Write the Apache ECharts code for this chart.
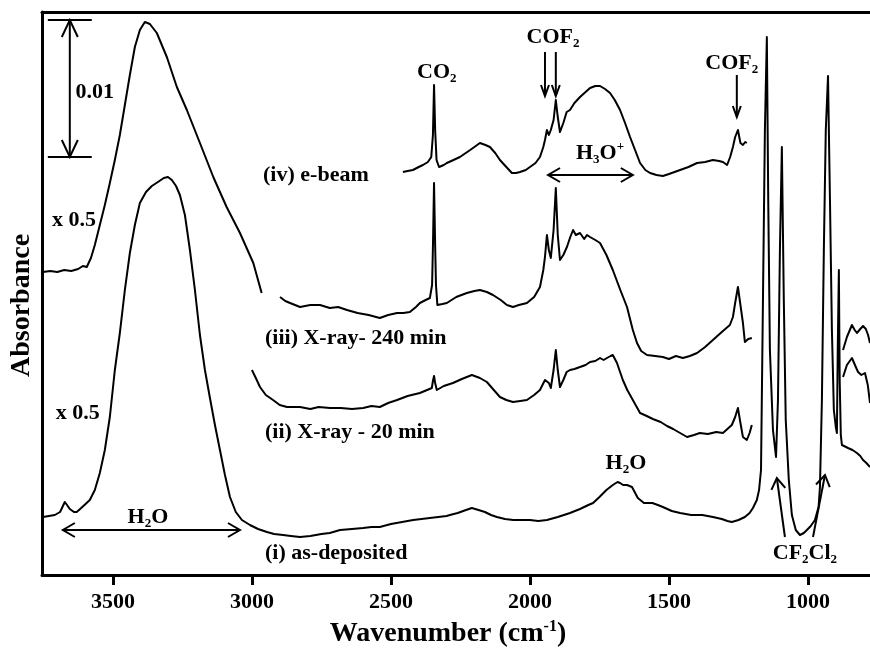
<!DOCTYPE html>
<html><head><meta charset="utf-8">
<script src="https://cdn.jsdelivr.net/npm/echarts@6/dist/echarts.min.js"></script>
<style>html,body{margin:0;padding:0;background:#fff}#c{width:870px;height:654px}</style>
</head><body><div id="c"></div>
<script>
// x: wavenumber (cm-1); y: offset absorbance in arbitrary plot units
const xTicks = [1000, 1500, 2000, 2500, 3000, 3500];

// (iii) X-ray 240 min, x0.5 OH-stretch part
const spectrumIII_scaled = [[3752,303],[3725,304],[3700,303],[3675,305],[3650,304],[3625,306],[3608,309],[3594,308],[3579,317],[3565,330],[3547,350],[3529,370],[3511,392],[3493,415],[3475,440],[3457,470],[3439,500],[3421,528],[3403,545],[3385,553],[3367,551],[3342,542],[3306,518],[3270,488],[3234,465],[3187,432],[3139,398],[3091,368],[3043,342],[2995,312],[2965,282]];
const spectrumIII = [[2899,278],[2880,274],[2863,272],[2845,270],[2827,268],[2790,270],[2755,270],[2720,267],[2690,268],[2658,265],[2620,262],[2580,260],[2540,257],[2510,260],[2478,262],[2455,262],[2432,263],[2410,268],[2396,272],[2375,275],[2360,277],[2352,290],[2349,328],[2345,392],[2341,330],[2338,290],[2333,270],[2315,271],[2299,272],[2265,278],[2227,282],[2200,284],[2180,285],[2155,283],[2133,280],[2105,275],[2083,270],[2061,268],[2040,270],[2011,272],[1985,278],[1964,288],[1952,305],[1946,318],[1939,340],[1932,325],[1925,317],[1915,345],[1907,387],[1900,340],[1892,315],[1880,320],[1867,328],[1855,338],[1845,345],[1835,340],[1820,342],[1805,336],[1795,340],[1784,338],[1765,335],[1748,332],[1725,320],[1702,305],[1675,285],[1651,268],[1630,245],[1615,232],[1600,224],[1579,220],[1550,219],[1522,218],[1500,216],[1475,219],[1450,217],[1425,219],[1399,222],[1370,228],[1342,235],[1310,243],[1281,250],[1270,258],[1262,272],[1252,288],[1243,270],[1234,252],[1227,233],[1215,236],[1202,237]];
const spectrumIII_low = [[874,225],[860,238],[842,250],[832,245],[824,242],[812,246],[802,249],[792,246],[784,240],[777,232]];

// (ii) X-ray 20 min
const spectrumII = [[3000,205],[2986,197],[2971,188],[2950,180],[2924,175],[2900,170],[2874,168],[2850,168],[2827,168],[2790,166],[2760,168],[2719,167],[2680,167],[2640,166],[2600,167],[2570,169],[2540,168],[2510,172],[2478,175],[2440,179],[2396,182],[2370,185],[2353,187],[2349,194],[2345,199],[2341,192],[2335,185],[2310,189],[2277,192],[2245,196],[2209,200],[2180,197],[2155,193],[2130,185],[2108,178],[2085,175],[2061,173],[2035,174],[2011,175],[1985,180],[1964,185],[1946,195],[1939,197],[1932,192],[1925,187],[1915,205],[1907,225],[1900,205],[1892,188],[1880,195],[1868,203],[1856,205],[1840,206],[1820,208],[1800,210],[1784,213],[1765,214],[1748,217],[1735,215],[1723,217],[1710,219],[1702,220],[1687,212],[1666,195],[1650,185],[1630,175],[1604,162],[1580,159],[1558,156],[1530,153],[1507,149],[1485,146],[1460,142],[1435,138],[1410,140],[1389,142],[1360,141],[1330,143],[1306,142],[1290,146],[1274,150],[1262,158],[1252,167],[1243,152],[1234,138],[1220,135],[1210,142],[1202,150]];
const spectrumII_low = [[874,198],[860,210],[842,217],[828,208],[820,203],[808,200],[795,202],[785,190],[777,172]];

// (i) as-deposited (OH band shown x0.5)
const spectrumI = [[3752,58],[3730,59],[3709,60],[3690,63],[3673,73],[3665,70],[3655,66],[3640,63],[3630,63],[3610,68],[3583,75],[3565,85],[3547,102],[3529,125],[3511,158],[3493,205],[3475,242],[3457,285],[3439,322],[3421,350],[3403,372],[3381,383],[3360,389],[3338,393],[3317,397],[3302,398],[3288,395],[3273,389],[3259,380],[3241,360],[3223,325],[3205,285],[3187,240],[3169,205],[3151,177],[3133,150],[3115,125],[3097,100],[3079,78],[3058,63],[3036,55],[3007,50],[2978,46],[2946,43],[2920,41],[2888,40],[2860,39],[2827,38],[2790,39],[2750,41],[2720,42],[2683,45],[2640,46],[2600,47],[2570,48],[2540,48],[2500,51],[2460,53],[2420,55],[2390,56],[2360,57],[2330,58],[2300,59],[2288,60],[2260,62],[2230,65],[2209,67],[2185,65],[2162,63],[2140,60],[2119,58],[2090,56],[2060,55],[2036,55],[2000,55],[1970,54],[1939,55],[1900,58],[1856,62],[1820,66],[1790,70],[1773,72],[1750,78],[1725,85],[1702,90],[1685,93],[1676,92],[1665,90],[1651,90],[1633,88],[1612,77],[1590,72],[1560,72],[1540,70],[1522,68],[1490,64],[1460,62],[1420,60],[1380,60],[1342,58],[1310,56],[1290,54],[1274,53],[1250,55],[1227,58],[1210,62],[1198,67],[1184,75],[1176,85],[1169,105],[1162,275],[1155,445],[1148,538],[1143,375],[1137,225],[1126,145],[1115,118],[1108,175],[1101,325],[1094,428],[1087,275],[1080,155],[1069,95],[1058,60],[1044,45],[1029,40],[1015,42],[1004,45],[990,49],[975,55],[962,68],[957,88],[950,175],[943,325],[936,445],[928,499],[921,375],[914,245],[907,165],[900,148],[896,142],[893,225],[889,305],[886,195],[882,140],[878,130],[874,128],[856,127],[840,125],[824,122],[812,119],[802,115],[790,112],[777,108]];

// (iv) e-beam
const spectrumIV = [[2457,403],[2440,404],[2421,405],[2400,408],[2385,410],[2367,413],[2355,418],[2349,440],[2345,490],[2341,445],[2336,415],[2327,408],[2310,410],[2299,412],[2275,415],[2252,418],[2215,425],[2180,432],[2160,430],[2144,428],[2125,422],[2108,415],[2085,408],[2065,402],[2050,402],[2036,403],[2015,405],[2000,408],[1980,412],[1964,418],[1952,428],[1946,435],[1939,445],[1932,440],[1925,445],[1915,455],[1907,475],[1900,458],[1892,443],[1880,452],[1868,463],[1856,465],[1840,472],[1820,478],[1800,483],[1784,487],[1765,489],[1748,489],[1730,486],[1712,482],[1695,475],[1676,465],[1658,452],[1640,438],[1622,425],[1604,412],[1585,405],[1568,402],[1545,400],[1522,399],[1500,401],[1480,403],[1460,405],[1430,408],[1399,412],[1370,413],[1342,415],[1320,414],[1306,413],[1291,410],[1280,418],[1270,428],[1262,438],[1252,445],[1243,432],[1234,430],[1226,433],[1220,432]];

// annotation texts and anchors (data coordinates)
const labelTexts = [
  {t:'{a|0.01}', at:[3565,483], align:'center'},
  {t:'{a|x 0.5}', at:[3640,355], align:'center'},
  {t:'{a|x 0.5}', at:[3626,162], align:'center'},
  {t:'{a|(iv) e-beam}', at:[2960,400], align:'left'},
  {t:'{a|(iii) X-ray- 240 min}', at:[2953,237], align:'left'},
  {t:'{a|(ii) X-ray - 20 min}', at:[2953,143], align:'left'},
  {t:'{a|(i) as-deposited}', at:[2953,22], align:'left'},
  {t:'{a|CO}{s|2}', at:[2335,503], align:'center'},
  {t:'{a|COF}{s|2}', at:[1917,538], align:'center'},
  {t:'{a|H}{s|3}{a|O}{p|+}', at:[1748,422], align:'center'},
  {t:'{a|COF}{s|2}', at:[1274,512], align:'center'},
  {t:'{a|H}{s|2}{a|O}', at:[1655,112], align:'center'},
  {t:'{a|H}{s|2}{a|O}', at:[3374,58], align:'center'},
  {t:'{a|CF}{s|2}{a|Cl}{s|2}', at:[1011,22], align:'center'}
];
const arrowList = [
  {from:[1946,523], to:[1946,479], both:false, len:11, half:4},
  {from:[1907,523], to:[1907,479], both:false, len:11, half:4},
  {from:[1256,500], to:[1256,458], both:false, len:11, half:4},
  {from:[1935,400], to:[1630,400], both:true, len:12, half:7},
  {from:[3680,45], to:[3043,45], both:true, len:12, half:7},
  {from:[3655,555], to:[3655,418], both:true, len:17, half:8},
  {from:[1083,38], to:[1112,97], both:false, len:11, half:7},
  {from:[982,38], to:[939,100], both:false, len:11, half:7}
];
const capLines = [
  {from:[3734,555], to:[3576,555]},
  {from:[3734,418], to:[3576,418]}
];

const FONT = '"Liberation Serif","Times New Roman",serif';
const RICH = {
  a:{fontFamily:FONT, fontWeight:'bold', fontSize:22, color:'#000', lineHeight:26},
  s:{fontFamily:FONT, fontWeight:'bold', fontSize:13, color:'#000', lineHeight:10, verticalAlign:'bottom'},
  p:{fontFamily:FONT, fontWeight:'bold', fontSize:13, color:'#000', lineHeight:10, verticalAlign:'top'}
};

const chart = echarts.init(document.getElementById('c'), null, {renderer:'canvas'});
function lineSeries(name, data){
  return {type:'line', name:name, data:data, showSymbol:false, symbol:'none', silent:true,
    lineStyle:{color:'#000', width:2, join:'round'}, z:3};
}
const axisLineStyle = {color:'#000', width:3};
chart.setOption({
  animation:false,
  backgroundColor:'#fff',
  grid:{left:42, right:0, top:12, bottom:79},
  xAxis:[{
    type:'value', min:777, max:3755, inverse:true,
    axisLine:{show:true, onZero:false, lineStyle:axisLineStyle},
    axisTick:{show:true, customValues:xTicks, length:10, inside:false, lineStyle:{color:'#000', width:3}},
    axisLabel:{customValues:xTicks, formatter:function(v){return String(v);}, color:'#000', fontFamily:FONT, fontWeight:'bold', fontSize:22, margin:16},
    splitLine:{show:false},
    name:'{a|Wavenumber (cm}{p|-1}{a|)}', nameLocation:'middle', nameGap:44,
    nameTextStyle:{padding:[0,16,0,0], rich:{
      a:{fontFamily:FONT, fontWeight:'bold', fontSize:28, color:'#000', lineHeight:30},
      p:{fontFamily:FONT, fontWeight:'bold', fontSize:16, color:'#000', lineHeight:14, verticalAlign:'top'}
    }}
  },{
    type:'value', position:'top', min:777, max:3755, inverse:true,
    axisLine:{show:true, onZero:false, lineStyle:axisLineStyle},
    axisTick:{show:false}, axisLabel:{show:false}, splitLine:{show:false}
  }],
  yAxis:{
    type:'value', min:0, max:563,
    axisLine:{show:true, onZero:false, lineStyle:axisLineStyle},
    axisTick:{show:false}, axisLabel:{show:false}, splitLine:{show:false},
    name:'Absorbance', nameLocation:'middle', nameRotate:90, nameGap:6,
    nameTextStyle:{fontFamily:FONT, fontWeight:'bold', fontSize:28, color:'#000', padding:[0,24,0,0]}
  },
  series:[
    lineSeries('(iv) e-beam', spectrumIV),
    lineSeries('(iii) X-ray 240 min x0.5', spectrumIII_scaled),
    lineSeries('(iii) X-ray 240 min', spectrumIII),
    lineSeries('(iii) X-ray 240 min low', spectrumIII_low),
    lineSeries('(ii) X-ray 20 min', spectrumII),
    lineSeries('(ii) X-ray 20 min low', spectrumII_low),
    lineSeries('(i) as-deposited', spectrumI)
  ]
});

const P = (d) => chart.convertToPixel({gridIndex:0}, d);
const els = [];
function seg(a, b){
  els.push({type:'line', silent:true, z:10, shape:{x1:a[0], y1:a[1], x2:b[0], y2:b[1]}, style:{stroke:'#000', lineWidth:2}});
}
function head(tip, from, len, half){
  const dx = from[0]-tip[0], dy = from[1]-tip[1];
  const L = Math.hypot(dx, dy), ux = dx/L, uy = dy/L;
  const bx = tip[0]+ux*len, by = tip[1]+uy*len;
  els.push({type:'polyline', silent:true, z:10,
    shape:{points:[[bx-uy*half, by+ux*half], [tip[0], tip[1]], [bx+uy*half, by-ux*half]]},
    style:{stroke:'#000', lineWidth:2, fill:null}});
}
arrowList.forEach(function(ar){
  const a = P(ar.from), b = P(ar.to);
  seg(a, b); head(b, a, ar.len, ar.half);
  if (ar.both) head(a, b, ar.len, ar.half);
});
capLines.forEach(function(c){ seg(P(c.from), P(c.to)); });
labelTexts.forEach(function(l){
  const p = P(l.at);
  els.push({type:'text', silent:true, z:10, x:p[0], y:p[1],
    style:{text:l.t, rich:RICH, fill:'#000', align:l.align, textAlign:l.align, verticalAlign:'middle', textVerticalAlign:'middle'}});
});
chart.setOption({graphic:{elements:els}});
</script>
</body></html>
